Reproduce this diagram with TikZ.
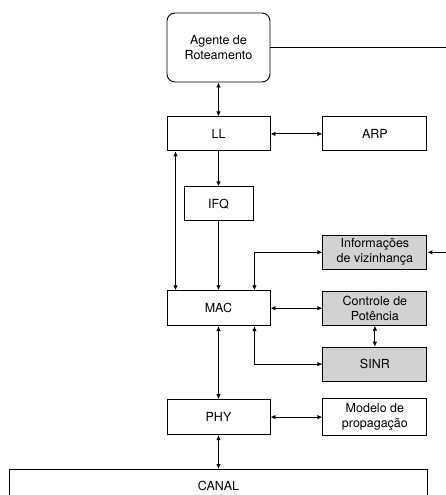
\documentclass[tikz,border=0pt]{standalone}
\usepackage{fontspec}
\setmainfont{TeX Gyre Heros}
\usetikzlibrary{arrows.meta,positioning}

\begin{document}
\begin{tikzpicture}[
  x=1pt, y=-1pt,
  blk/.style={draw, rectangle, align=center, minimum width=103pt, minimum height=34pt, inner sep=1pt, line width=0.9pt, font=\fontsize{12.5}{15}\selectfont},
  ext/.style={blk, fill=gray!35, minimum width=104pt},
  arr/.style={-{Latex[length=5pt,width=4.5pt]}, line width=0.9pt},
  barr/.style={{Latex[length=5pt,width=4.5pt]}-{Latex[length=5pt,width=4.5pt]}, line width=0.9pt}
]
\clip (0,0) rectangle (446,495);
\node[blk, rounded corners=8pt, minimum height=69pt] (agente) at (218.5,47.5) {Agente de\\Roteamento};
\node[blk, below=34pt of agente] (ll) {LL};
\node[blk, right=52pt of ll, minimum width=104pt] (arp) {ARP};
\node[blk, below=35pt of ll, minimum width=69pt] (ifq) {IFQ};
\node[blk, below=69pt of ifq, minimum height=35pt] (mac) {MAC};
\node[ext, right=52pt of mac] (pot) {Controle de\\Potência};
\node[ext, above=21pt of pot] (viz) {Informações\\de vizinhança};
\node[ext, below=21pt of pot] (sinr) {SINR};
\node[blk, below=73pt of mac, minimum height=35pt] (phy) {PHY};
\node[blk, right=52pt of phy, minimum width=104pt, minimum height=37pt] (prop) {Modelo de\\propagação};
\node[blk, below=34pt of phy, minimum width=418pt, minimum height=32pt] (canal) {CANAL};
\coordinate (rt) at (446,47.5);
\draw[barr] (agente) -- (ll);
\draw[barr] (ll) -- (arp);
\draw[arr] (ll) -- (ifq);
\draw[arr] (ifq) -- (mac);
\draw[barr] ([xshift=9pt]ll.south west) -- ([xshift=9pt]mac.north west);
\draw[barr] ([xshift=-16pt]mac.north east) |- (viz.west);
\draw[barr] (mac) -- (pot);
\draw[barr] (pot) -- (sinr);
\draw[barr] ([xshift=-16pt]mac.south east) |- (sinr.west);
\draw[barr] (mac) -- (phy);
\draw[barr] (phy) -- (prop);
\draw[barr] (phy) -- (canal);
\draw[arr] (agente.east) -- (rt) |- (viz.east);
\end{tikzpicture}
\end{document}
